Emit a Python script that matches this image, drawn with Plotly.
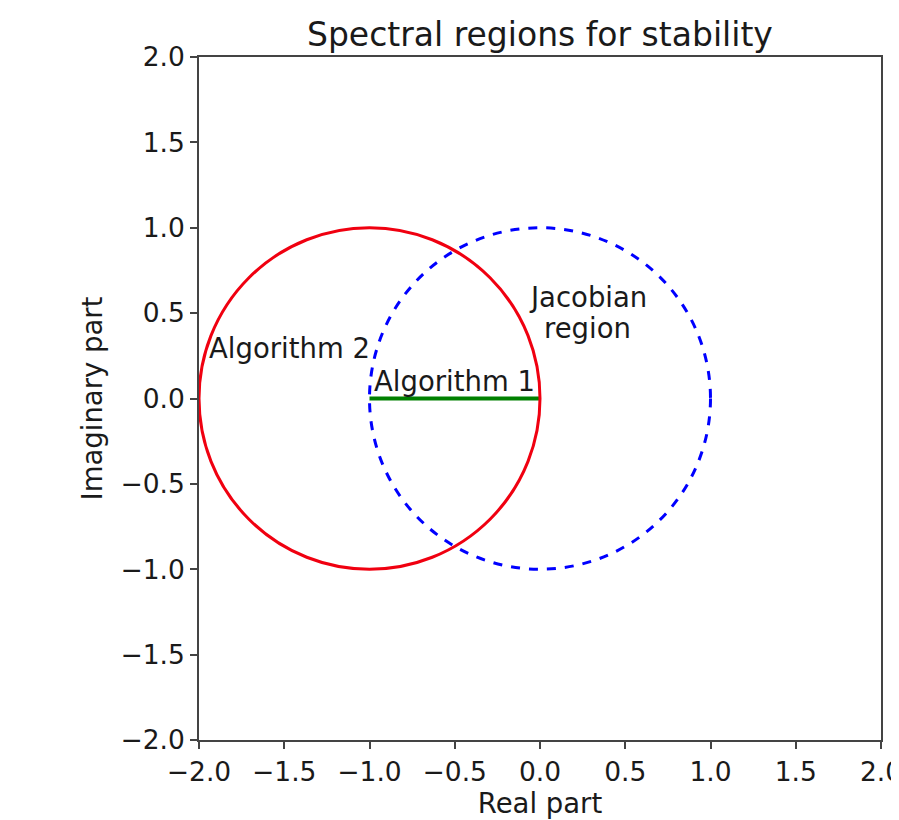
import plotly.graph_objects as go

# Data
tick_vals = [-2.0, -1.5, -1.0, -0.5, 0.0, 0.5, 1.0, 1.5, 2.0]
tick_text = ["\u22122.0", "\u22121.5", "\u22121.0", "\u22120.5", "0.0", "0.5", "1.0", "1.5", "2.0"]

alg2_center = (-1.0, 0.0)
alg2_radius = 1.0
jac_center = (0.0, 0.0)
jac_radius = 1.0
alg1_x = [-1.0, 0.0]
alg1_y = [0.0, 0.0]

labels = ["Algorithm 2", "Algorithm 1", "Jacobian", "region"]
label_x = [-0.985, -0.985, 0.28, 0.28]
label_y = [0.296, 0.10, 0.594, 0.413]
label_anchor = ["right", "left", "center", "center"]

font = "DejaVu Sans, Verdana, sans-serif"
txt = "#1a1a1a"

fig = go.Figure()
fig.add_trace(go.Scatter(x=alg1_x, y=alg1_y, mode="lines",
                         line=dict(color="#008000", width=4), showlegend=False,
                         hoverinfo="skip"))

fig.add_shape(type="circle", xref="x", yref="y",
              x0=alg2_center[0] - alg2_radius, x1=alg2_center[0] + alg2_radius,
              y0=alg2_center[1] - alg2_radius, y1=alg2_center[1] + alg2_radius,
              line=dict(color="#f00010", width=3), layer="above")
fig.add_shape(type="circle", xref="x", yref="y",
              x0=jac_center[0] - jac_radius, x1=jac_center[0] + jac_radius,
              y0=jac_center[1] - jac_radius, y1=jac_center[1] + jac_radius,
              line=dict(color="#0000ff", width=3, dash="dash"), layer="above")

for t, x, y, a in zip(labels, label_x, label_y, label_anchor):
    fig.add_annotation(x=x, y=y, text=t, showarrow=False, xanchor=a, yanchor="middle",
                       font=dict(family=font, size=27.5, color=txt))

axis_common = dict(
    range=[-2.0, 2.0], tickmode="array", tickvals=tick_vals, ticktext=tick_text,
    showgrid=False, zeroline=False, showline=True, linecolor="#444444", linewidth=1.6,
    mirror=True, ticks="outside", ticklen=7, tickwidth=1.6, tickcolor="#444444",
    tickfont=dict(family=font, size=26.5, color=txt), automargin=False,
    ticklabeloverflow="allow",
)

fig.update_layout(
    width=891, height=812,
    margin=dict(l=191, r=18, t=49, b=80),
    plot_bgcolor="white", paper_bgcolor="white",
    title=dict(text="Spectral regions for stability", x=0.597, xanchor="center",
               xref="container", y=0.968, yanchor="middle", yref="container",
               font=dict(family=font, size=33, color=txt)),
    xaxis=dict(**axis_common, title=dict(text="Real part", standoff=5,
                                         font=dict(family=font, size=27.5, color=txt))),
    yaxis=dict(**axis_common, title=dict(text="Imaginary part", standoff=10,
                                         font=dict(family=font, size=27.5, color=txt))),
    showlegend=False,
)

fig.write_html("out.html")
